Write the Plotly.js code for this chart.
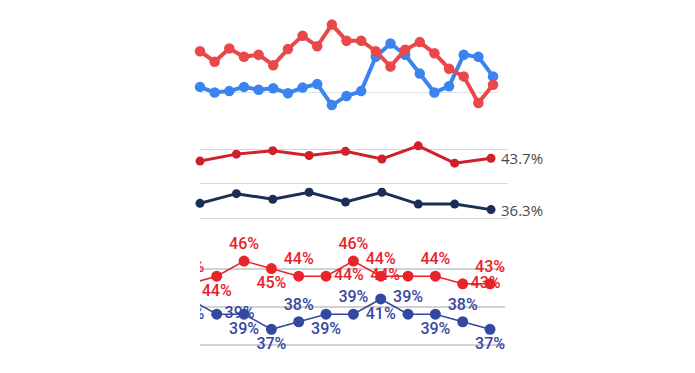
<!DOCTYPE html>
<html>
<head>
<meta charset="utf-8">
<script src="https://cdn.plot.ly/plotly-3.0.1.min.js"></script>
<style>html,body{margin:0;padding:0;background:#fff;}#chart{width:695px;height:373px;}</style>
</head>
<body>
<div id="chart"></div>
<script>
// Panel 1 (top): two poll-average series
const p1Red  = [45.9, 44.4, 46.3, 45.1, 45.4, 43.9, 46.2, 48.1, 46.6, 49.7, 47.4, 47.4, 45.9, 43.7, 46.1, 47.2, 45.6, 43.4, 42.3, 38.5, 41.1];
const p1Blue = [40.8, 40.0, 40.2, 40.8, 40.4, 40.6, 39.9, 40.7, 41.2, 38.2, 39.5, 40.2, 45.1, 47.0, 45.4, 42.7, 40.0, 40.9, 45.4, 45.1, 42.3];

// Panel 2 (middle)
const p2Red  = [43.3, 44.3, 44.8, 44.1, 44.7, 43.6, 45.5, 43.0, 43.7];
const p2Navy = [37.2, 38.6, 37.8, 38.8, 37.4, 38.8, 37.1, 37.1, 36.3];

// Panel 3 (bottom), labelled values
const p3Red  = [43, 44, 46, 45, 44, 44, 46, 44, 44, 44, 43, 43];
const p3Blue = [41, 39, 39, 37, 38, 39, 39, 41, 39, 39, 38, 37];
const p3RedPos  = ['top center','bottom center','top center','bottom center','top center','middle right','top center','top center','middle left','top center','middle right','top center'];
const p3BluePos = ['bottom center','middle right','bottom center','bottom center','top center','bottom center','top center','bottom center','top center','bottom center','top center','bottom center'];

const W = 695, H = 373;
const dx = (a, b) => [a / W, b / W];
const dy = (top, bottom) => [1 - bottom / H, 1 - top / H];
const idx = arr => arr.map((_, i) => i);

const traces = [
  {x: idx(p1Blue), y: p1Blue, xaxis: 'x', yaxis: 'y', mode: 'lines+markers', cliponaxis: false,
   line: {color: '#3b84ef', width: 4}, marker: {color: '#3b84ef', size: 10.5}, hoverinfo: 'skip'},
  {x: idx(p1Red), y: p1Red, xaxis: 'x', yaxis: 'y', mode: 'lines+markers', cliponaxis: false,
   line: {color: '#e9474a', width: 4}, marker: {color: '#e9474a', size: 10.5}, hoverinfo: 'skip'},

  {x: idx(p2Red), y: p2Red, xaxis: 'x2', yaxis: 'y2', mode: 'lines+markers', cliponaxis: false,
   line: {color: '#d0202b', width: 3}, marker: {color: '#d0202b', size: 9}, hoverinfo: 'skip'},
  {x: idx(p2Navy), y: p2Navy, xaxis: 'x2', yaxis: 'y2', mode: 'lines+markers', cliponaxis: false,
   line: {color: '#1b2f56', width: 3}, marker: {color: '#1b2f56', size: 9}, hoverinfo: 'skip'},

  {x: idx(p3Blue), y: p3Blue, xaxis: 'x3', yaxis: 'y3', mode: 'lines+markers+text', cliponaxis: true,
   text: p3Blue.map(v => v + '%'), textposition: p3BluePos,
   textfont: {family: 'Roboto', size: 16, color: '#3548a0', weight: 500},
   line: {color: '#3548a0', width: 1.5}, marker: {color: '#3548a0', size: 11}, hoverinfo: 'skip'},
  {x: idx(p3Red), y: p3Red, xaxis: 'x3', yaxis: 'y3', mode: 'lines+markers+text', cliponaxis: true,
   text: p3Red.map(v => v + '%'), textposition: p3RedPos,
   textfont: {family: 'Roboto', size: 16, color: '#e8232b', weight: 500},
   line: {color: '#e8232b', width: 1.5}, marker: {color: '#e8232b', size: 11}, hoverinfo: 'skip'}
];

const hiddenX = {showgrid: false, zeroline: false, showticklabels: false, ticks: '', showline: false};

const layout = {
  width: W, height: H,
  margin: {l: 0, r: 0, t: 0, b: 0},
  paper_bgcolor: '#ffffff', plot_bgcolor: 'rgba(0,0,0,0)',
  showlegend: false,
  xaxis:  Object.assign({domain: dx(200, 498), range: [0, 20.34], anchor: 'y'}, hiddenX),
  yaxis:  {domain: dy(12, 112), range: [37.214, 51.5], anchor: 'x', tickvals: [40], showticklabels: false,
           gridcolor: '#dde3ea', gridwidth: 1.5, zeroline: false, showline: false, ticks: ''},
  xaxis2: Object.assign({domain: dx(200, 508), range: [0, 8.467], anchor: 'y2'}, hiddenX),
  yaxis2: {domain: dy(137, 225), range: [34.08, 46.77], anchor: 'x2', tickvals: [35, 40, 45], showticklabels: false,
           gridcolor: '#d9d9d9', gridwidth: 1, zeroline: false, showline: false, ticks: ''},
  xaxis3: Object.assign({domain: dx(200, 505), range: [0.388, 11.548], anchor: 'y3'}, hiddenX),
  yaxis3: {domain: dy(234, 355), range: [33.62, 49.56], anchor: 'x3', tickvals: [35, 40, 45], showticklabels: false,
           gridcolor: '#d2d2d2', gridwidth: 2, zeroline: false, showline: false, ticks: ''},
  annotations: [
    {xref: 'x2', yref: 'y2', x: p2Red.length - 1, y: p2Red[p2Red.length - 1], text: p2Red[p2Red.length - 1].toFixed(1) + '%',
     showarrow: false, xanchor: 'left', yanchor: 'middle', xshift: 8,
     font: {family: 'Open Sans', size: 15, color: '#4a4a4a'}},
    {xref: 'x2', yref: 'y2', x: p2Navy.length - 1, y: p2Navy[p2Navy.length - 1], text: p2Navy[p2Navy.length - 1].toFixed(1) + '%',
     showarrow: false, xanchor: 'left', yanchor: 'middle', xshift: 8,
     font: {family: 'Open Sans', size: 15, color: '#4a4a4a'}}
  ]
};

Plotly.newPlot('chart', traces, layout, {displayModeBar: false, staticPlot: true});
</script>
</body>
</html>
